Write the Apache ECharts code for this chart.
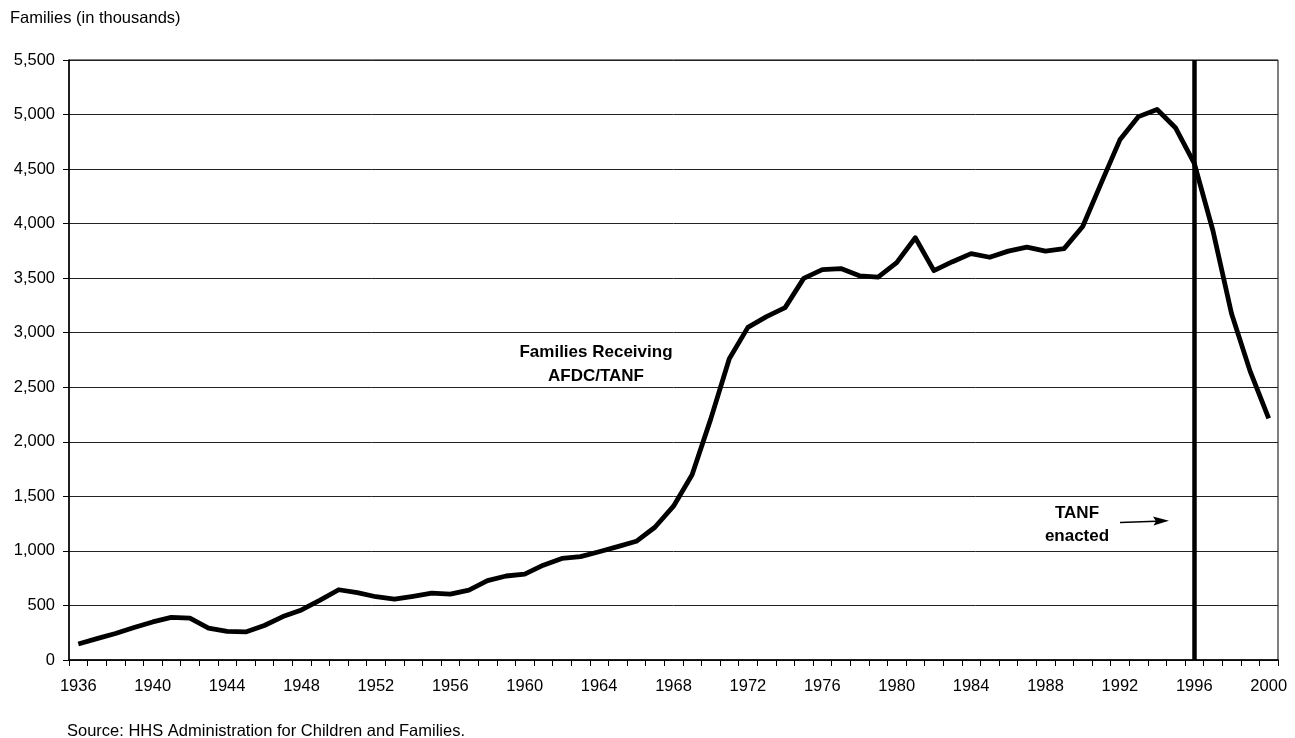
<!DOCTYPE html>
<html>
<head>
<meta charset="utf-8">
<script src="https://cdn.jsdelivr.net/npm/echarts@6/dist/echarts.min.js"></script>
<style>
html,body{margin:0;padding:0;background:#fff;}
#chart{width:1295px;height:738px;}
</style>
</head>
<body>
<div id="chart"></div>
<script>
var years = [];
for (var y = 1936; y <= 2000; y++) years.push(String(y));

var families = [
  147, 196, 243, 298, 349, 391, 383, 293, 262, 257,
  316, 398, 459, 549, 644, 617, 580, 558, 584, 613,
  604, 641, 727, 770, 787, 869, 931, 947, 992, 1039,
  1088, 1217, 1410, 1698, 2208, 2762, 3049, 3148, 3230, 3498,
  3579, 3588, 3522, 3509, 3642, 3871, 3569, 3651, 3725, 3692,
  3748, 3784, 3748, 3771, 3974, 4374, 4768, 4981, 5046, 4876,
  4553, 3937, 3176, 2648, 2215
];

var yTicks = { min: 0, max: 5500, interval: 500 };
var tanfYear = '1996';

var chart = echarts.init(document.getElementById('chart'));
var FONT = '"Liberation Sans", Arial, sans-serif';

chart.setOption({
  animation: false,
  backgroundColor: '#fff',
  grid: {
    left: 69, right: 17, top: 60, bottom: 78,
    show: true, borderColor: '#000', borderWidth: 1
  },
  xAxis: {
    type: 'category',
    data: years,
    boundaryGap: true,
    axisLine: { lineStyle: { color: '#000', width: 1.5 } },
    axisTick: { show: true, interval: 0, length: 6, lineStyle: { color: '#000', width: 1 } },
    axisLabel: { interval: 3, color: '#000', fontSize: 16.5, fontFamily: FONT, margin: 18 },
    splitLine: { show: false }
  },
  yAxis: {
    type: 'value',
    min: yTicks.min, max: yTicks.max, interval: yTicks.interval,
    axisLine: { show: true, lineStyle: { color: '#000', width: 1.5 } },
    axisTick: { show: true, length: 6, lineStyle: { color: '#000' } },
    axisLabel: {
      color: '#000', fontSize: 16.5, fontFamily: FONT, margin: 14,
      formatter: function (v) { return v.toLocaleString('en-US'); }
    },
    splitLine: { show: true, lineStyle: { color: '#222', width: 1 } }
  },
  series: [{
    type: 'line',
    data: families,
    symbol: 'none',
    smooth: false,
    lineStyle: { color: '#000', width: 4.8, join: 'round' },
    markLine: {
      silent: true,
      symbol: 'none',
      label: { show: false },
      lineStyle: { color: '#000', width: 4.5, type: 'solid' },
      data: [{ xAxis: tanfYear }]
    }
  }],
  graphic: [
    {
      type: 'text', left: 10, top: 10,
      style: { text: 'Families (in thousands)', font: '16.5px ' + FONT, fill: '#000' }
    },
    {
      type: 'text', x: 67, y: 731,
      style: { text: 'Source: HHS Administration for Children and Families.', font: '16.5px ' + FONT, fill: '#000', verticalAlign: 'middle' }
    },
    {
      type: 'text', x: 596, y: 364,
      style: { text: 'Families Receiving\nAFDC/TANF', font: 'bold 17px ' + FONT, fill: '#000', align: 'center', verticalAlign: 'middle', lineHeight: 24 }
    },
    {
      type: 'text', x: 1077, y: 525,
      style: { text: 'TANF\nenacted', font: 'bold 17px ' + FONT, fill: '#000', align: 'center', verticalAlign: 'middle', lineHeight: 23 }
    },
    {
      type: 'line',
      shape: { x1: 1120, y1: 522.5, x2: 1156, y2: 521.3 },
      style: { stroke: '#000', lineWidth: 1.5 }
    },
    {
      type: 'polygon',
      shape: { points: [[1169, 520.8], [1153, 516.5], [1156, 521.3], [1153.5, 525.5]] },
      style: { fill: '#000' }
    }
  ]
});
</script>
</body>
</html>
